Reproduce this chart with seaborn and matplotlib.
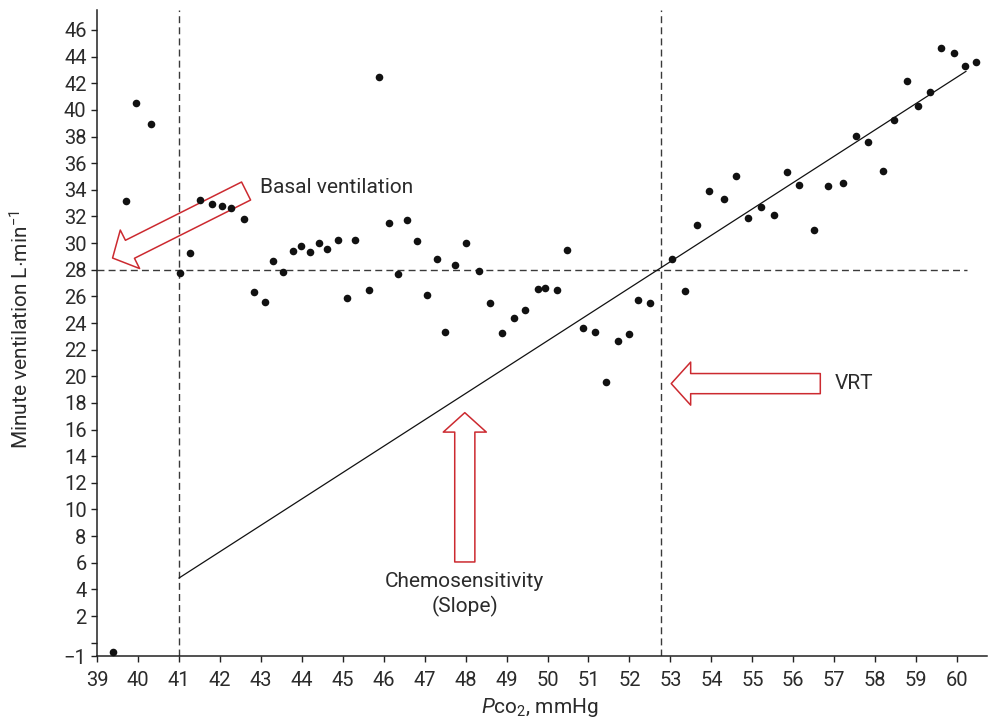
import numpy as np
import pandas as pd
import seaborn as sns
import matplotlib.pyplot as plt
from matplotlib.patches import FancyArrowPatch

# PCO2 (mmHg) and minute ventilation (L/min)
pco2 = [39.38, 39.72, 39.96, 40.31, 41.02, 41.26, 41.52, 41.80, 42.05, 42.28,
        42.58, 42.83, 43.09, 43.29, 43.55, 43.78, 43.99, 44.19, 44.43, 44.61,
        44.88, 45.11, 45.31, 45.63, 45.88, 46.12, 46.34, 46.58, 46.82, 47.06,
        47.31, 47.50, 47.75, 48.02, 48.32, 48.59, 48.88, 49.17, 49.45, 49.76,
        49.94, 50.23, 50.47, 50.86, 51.15, 51.43, 51.72, 51.99, 52.20, 52.49,
        53.04, 53.35, 53.64, 53.95, 54.30, 54.59, 54.89, 55.21, 55.52, 55.85,
        56.14, 56.51, 56.85, 57.22, 57.52, 57.83, 58.18, 58.47, 58.77, 59.04,
        59.33, 59.61, 59.92, 60.19, 60.46]
ve = [-0.68, 33.14, 40.54, 38.94, 27.73, 29.28, 33.26, 32.96, 32.81, 32.63,
      31.81, 26.35, 25.58, 28.65, 27.85, 29.43, 29.80, 29.35, 30.00, 29.53,
      30.21, 25.90, 30.25, 26.48, 42.49, 31.51, 27.66, 31.73, 30.18, 26.08,
      28.80, 23.35, 28.35, 30.00, 27.90, 25.52, 23.23, 24.35, 25.00, 26.57,
      26.63, 26.48, 29.48, 23.62, 23.32, 19.59, 22.63, 23.15, 25.70, 25.50,
      28.83, 26.38, 31.38, 33.89, 33.33, 35.01, 31.86, 32.69, 32.09, 35.34,
      34.36, 31.00, 34.29, 34.53, 38.02, 37.57, 35.39, 39.24, 42.14, 40.27,
      41.36, 44.67, 44.29, 43.32, 43.57]

# regression line (chemosensitivity) end points
fit_x = [41.0, 60.22]
fit_y = [4.85, 42.9]

basal_ve = 28
basal_pco2 = 41
vrt = 52.77

xticks = list(range(39, 61))
yticks = [-1, 0] + list(range(2, 47, 2))
ylabels = ["\u22121", ""] + [str(v) for v in range(2, 47, 2)]

df = pd.DataFrame({"pco2": pco2, "ve": ve})

sns.set_style("ticks")
plt.rcParams["font.family"] = ["Roboto", "DejaVu Sans"]
plt.rcParams["mathtext.fontset"] = "custom"
plt.rcParams["mathtext.rm"] = "Roboto"
plt.rcParams["mathtext.it"] = "Roboto:italic"

text_col = "#2b2b2b"
red = "#cc2a30"
dash_col = "#3a3a3a"

fig = plt.figure(figsize=(9.89, 7.18), dpi=100)
ax = fig.add_axes([97 / 989, 1 - 656 / 718, (987 - 97) / 989, (656 - 10) / 718])

sns.scatterplot(data=df, x="pco2", y="ve", color="#111111", s=30,
                linewidth=0, ax=ax, zorder=6)
sns.lineplot(x=fit_x, y=fit_y, color="#111111", linewidth=0.9, ax=ax,
             zorder=3)

# dashed reference lines
ax.axhline(basal_ve, xmin=0, xmax=(60.25 - 39) / (60.73 - 39), color=dash_col,
           linewidth=1.0, linestyle=(0, (5, 3)), zorder=2)
ax.axvline(basal_pco2, color=dash_col, linewidth=1.0,
           linestyle=(0, (5, 3)), zorder=2)
ax.axvline(vrt, color=dash_col, linewidth=1.0,
           linestyle=(0, (5, 3)), zorder=2)

# block arrows (outlined, no fill)
astyle = "simple,head_length=1.4,head_width=3.1,tail_width=1.45"
for tail, tip in [((42.64, 33.91), (39.38, 28.88)),
                  ((47.98, 6.06), (47.98, 17.27)),
                  ((56.66, 19.45), (53.02, 19.45))]:
    arr = FancyArrowPatch(tail, tip, arrowstyle=astyle, mutation_scale=10,
                          facecolor="none", edgecolor=red, linewidth=1.1,
                          shrinkA=0, shrinkB=0, zorder=5)
    ax.add_patch(arr)

ax.text(42.98, 34.2, "Basal ventilation", fontsize=15, color=text_col,
        ha="left", va="center")
ax.text(57.0, 19.45, "VRT", fontsize=15, color=text_col,
        ha="left", va="center")
ax.text(47.98, 3.65, "Chemosensitivity\n(Slope)", fontsize=15, color=text_col,
        ha="center", va="center", linespacing=1.3)

ax.set_xlim(39, 60.73)
ax.set_ylim(-1, 47.5)
ax.set_xticks(xticks)
ax.set_yticks(yticks)
ax.set_yticklabels(ylabels)
ax.tick_params(axis="both", direction="out", length=4.5, width=1.0,
               color="#222222", labelsize=14.5, labelcolor=text_col)
ax.tick_params(axis="x", pad=6)
ax.tick_params(axis="y", pad=3)

ax.set_xlabel(r"$\mathit{P}$co$_2$, mmHg", fontsize=15, color=text_col)
ax.set_ylabel(r"Minute ventilation L$\cdot$min$^{-1}$", fontsize=15,
              color=text_col)
ax.xaxis.set_label_coords(0.498, -0.062)
ax.yaxis.set_label_coords(-0.072, 0.505)

sns.despine(ax=ax)
for sp in ["left", "bottom"]:
    ax.spines[sp].set_linewidth(1.1)
    ax.spines[sp].set_color("#222222")

fig.savefig("out.png", dpi=100)
